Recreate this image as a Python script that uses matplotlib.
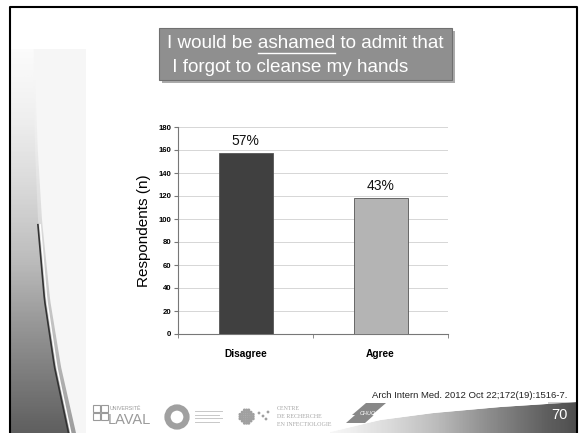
import numpy as np
import matplotlib
matplotlib.use("Agg")
from matplotlib import pyplot as plt
from matplotlib.patches import Rectangle, Polygon, Circle

categories = ["Disagree", "Agree"]
respondents = [157, 118]
percent_labels = ["57%", "43%"]
bar_colors = ["#404040", "#b4b4b4"]
y_ticks = list(range(0, 181, 20))
title_lines = ["I would be ashamed to admit that", " I forgot to cleanse my hands"]
underlined_word = "ashamed"
citation = "Arch Intern Med. 2012 Oct 22;172(19):1516-7."
page_number = "70"

W, H = 579, 433
SANS = ["Liberation Sans", "DejaVu Sans"]

fig = plt.figure(figsize=(W / 100, H / 100), dpi=100)
fig.patch.set_facecolor("white")

# slide background, in pixel coords (y down)
bg = fig.add_axes([0, 0, 1, 1])
bg.set_xlim(0, W)
bg.set_ylim(H, 0)
bg.axis("off")

# light side panel
bg.add_patch(Rectangle((11, 49), 75, H - 49, facecolor="#f6f6f6", edgecolor="none"))

# left swoosh: vertical gradient clipped to a curved shape
ys = np.linspace(49, H, 60)
edge_x = np.interp(ys, [49, 150, 220, 300, 367, 433], [33, 35, 38, 45, 55, 69])
outer_w = np.interp(ys, [49, 220, 433], [1, 4, 7])
outer = Polygon(list(zip(edge_x + outer_w, ys)) + [(11, H), (11, 49)], closed=True,
                facecolor="none", edgecolor="none")
bg.add_patch(outer)
im0 = bg.imshow(np.linspace(0, 1, 256).reshape(-1, 1), cmap="Greys", vmin=-0.1, vmax=2.2,
                extent=(11, 80, H, 49), aspect="auto", zorder=1)
im0.set_clip_path(outer)
swoosh = Polygon(list(zip(edge_x, ys)) + [(11, H), (11, 49)], closed=True,
                 facecolor="none", edgecolor="none")
bg.add_patch(swoosh)
grad = np.linspace(0, 1, 256).reshape(-1, 1) ** 1.1
im = bg.imshow(grad, cmap="Greys", vmin=-0.05, vmax=1.45, extent=(11, 80, H, 49),
               aspect="auto", zorder=1)
im.set_clip_path(swoosh)
sel = ys >= 220
bg.plot(edge_x[sel] - 0.5, ys[sel], color="#333333", lw=1.2, zorder=2)
bg.plot(edge_x[sel] + 1.8, ys[sel], color="white", lw=1.0, zorder=2)

# bottom-right band with horizontal gradient
bx = np.linspace(330, 577, 40)
btop = np.interp(bx, [330, 380, 433, 500, 577], [432, 420, 413, 407, 402])
band = Polygon(list(zip(bx, btop)) + [(577, H), (330, H)], closed=True,
               facecolor="none", edgecolor="none")
bg.add_patch(band)
hgrad = np.linspace(0, 1, 256).reshape(1, -1)
im2 = bg.imshow(hgrad, cmap="Greys", vmin=-0.1, vmax=1.3, extent=(330, 577, H, 398),
                aspect="auto", zorder=1)
im2.set_clip_path(band)
bg.plot(bx, btop - 0.5, color="white", lw=0.8, zorder=2)
bg.add_patch(Rectangle((548, 402), 29, 31, facecolor="#606060", edgecolor="none", alpha=0.3, zorder=2))

# frame
bg.plot([10, 10, 577, 577], [H, 7, 7, H], color="black", lw=1.5, zorder=5)

# title box with shadow
bg.add_patch(Rectangle((162, 31), 293, 52, facecolor="#666666", edgecolor="none", alpha=0.55, zorder=3))
bg.add_patch(Rectangle((159, 28), 293, 52, facecolor="#8f8f8f", edgecolor="#707070", lw=0.8, zorder=4))
bg.text(167, 44, title_lines[0], fontsize=13.6, family=SANS, color="white",
        ha="left", va="center", zorder=6)
bg.text(167, 67, title_lines[1], fontsize=13.6, family=SANS, color="white",
        ha="left", va="center", zorder=6)

# underline the key word
fig.canvas.draw()
rend = fig.canvas.get_renderer()
prefix = title_lines[0][:title_lines[0].index(underlined_word) + len(underlined_word)]
tmp1 = bg.text(167, 44, prefix, fontsize=13.6, family=SANS)
tmp2 = bg.text(167, 44, underlined_word, fontsize=13.6, family=SANS)
w1 = tmp1.get_window_extent(rend).width
w2 = tmp2.get_window_extent(rend).width
tmp1.remove()
tmp2.remove()
bg.plot([167 + w1 - w2, 167 + w1], [52.5, 52.5], color="white", lw=1.0, zorder=6)

# citation and page number
bg.text(567, 396, citation, fontsize=6.8, family=SANS, color="#222222",
        ha="right", va="center", zorder=6)
bg.text(568, 415, page_number, fontsize=10.5, family=SANS, color="white",
        ha="right", va="center", zorder=6)

# logos (rough)
for dx in (0, 8):
    for dy in (0, 8):
        bg.add_patch(Rectangle((93 + dx, 405 + dy), 6.5, 6.5, facecolor="none",
                               edgecolor="#9a9a9a", lw=0.8, zorder=3))
bg.text(110, 408, "UNIVERSITÉ", fontsize=3.8, family=SANS, color="#9a9a9a", va="center")
bg.text(108, 420, "LAVAL", fontsize=10.5, family=SANS, color="#9a9a9a", va="center")
bg.add_patch(Circle((177, 417), 9.5, facecolor="none", edgecolor="#a0a0a0", lw=4.5, zorder=3))
for i in range(4):
    bg.plot([195, 222 - 3 * (i % 2)], [411 + 3.5 * i, 411 + 3.5 * i], color="#c8c8c8", lw=0.7)
for i in range(7):
    for j in range(7):
        if (i - 3) ** 2 + (j - 3) ** 2 <= 10:
            bg.add_patch(Circle((240 + 2.2 * i, 410 + 2.2 * j), 0.8, color="#a0a0a0", zorder=3))
for px, py in [(259, 413), (263, 416), (268, 412), (266, 419)]:
    bg.add_patch(Circle((px, py), 0.7, color="#a0a0a0", zorder=3))
for k, s in enumerate(["CENTRE", "DE RECHERCHE", "EN INFECTIOLOGIE"]):
    bg.text(277, 408 + 8.5 * k, s, fontsize=4.3, family=["Liberation Serif", "DejaVu Serif"],
            color="#a8a8a8", va="center")
bg.add_patch(Polygon([(352, 415), (366, 403), (386, 403), (372, 415)], closed=True,
                     facecolor="#888888", edgecolor="none", zorder=3))
bg.add_patch(Polygon([(346, 423), (355, 415), (374, 415), (365, 423)], closed=True,
                     facecolor="#888888", edgecolor="none", zorder=3))
bg.text(368, 413, "CHUQ", fontsize=4, family=SANS, color="white", style="italic",
        ha="center", va="center", zorder=4)

# chart
ax = fig.add_axes([178 / W, (H - 334) / H, 270 / W, 207 / H])
ax.set_facecolor("none")
x = np.arange(len(categories))
ax.bar(x, respondents, width=0.4, color=bar_colors, edgecolor="#555555",
       linewidth=0.6, zorder=3)
for xi, v, lab in zip(x, respondents, percent_labels):
    ax.annotate(lab, (xi, v), xytext=(0, 4), textcoords="offset points",
                ha="center", va="bottom", fontsize=10, family=SANS, color="#111111")
ax.set_xlim(-0.5, len(categories) - 0.5)
ax.set_ylim(0, 180)
ax.set_yticks(y_ticks)
ax.yaxis.grid(True, color="#d6d6d6", lw=0.7, zorder=0)
ax.set_axisbelow(True)
ax.set_xticks(x)
ax.set_xticklabels(categories, fontsize=7.3, fontweight="bold", family=SANS)
ax.set_xticks([-0.5, 0.5, 1.5], minor=True)
ax.tick_params(axis="x", which="major", length=0, pad=11)
ax.tick_params(axis="x", which="minor", length=3, color="#777777")
ax.tick_params(axis="y", length=3, color="#777777", pad=2, labelsize=5.6)
for lab in ax.get_yticklabels():
    lab.set_fontweight("bold")
    lab.set_family(SANS)
for side in ("top", "right"):
    ax.spines[side].set_visible(False)
for side in ("left", "bottom"):
    ax.spines[side].set_color("#777777")
    ax.spines[side].set_linewidth(0.8)
ax.set_ylabel("Respondents (n)", fontsize=11, family=SANS, labelpad=5)

fig.savefig("out.png", dpi=100)
